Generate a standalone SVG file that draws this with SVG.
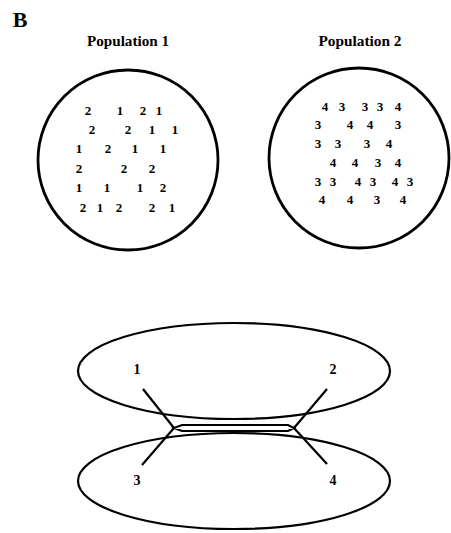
<svg xmlns="http://www.w3.org/2000/svg" width="451" height="533" viewBox="0 0 451 533">
<style>
text{font-family:"Liberation Serif","Times New Roman",serif;font-weight:bold;fill:#000;text-anchor:middle}
.d{font-size:13px}
.t{font-size:14px}
.lb{font-size:14px}
.shape{fill:none;stroke:#000;stroke-width:2.8}
.edge{fill:none;stroke:#000;stroke-width:2.2;stroke-linejoin:miter}
</style>
<rect width="451" height="533" fill="#fff"/>
<text x="20" y="27" style="font-size:22px">B</text>
<g id="pop1">
<text class="t" x="128" y="46" textLength="82" lengthAdjust="spacingAndGlyphs">Population 1</text>
<circle class="shape" cx="128" cy="160" r="90"/>
<text class="d" x="88" y="115">2</text><text class="d" x="120" y="115">1</text><text class="d" x="143" y="115">2</text><text class="d" x="159" y="115">1</text>
<text class="d" x="92" y="134">2</text><text class="d" x="128" y="134">2</text><text class="d" x="152" y="134">1</text><text class="d" x="175" y="134">1</text>
<text class="d" x="79" y="153">1</text><text class="d" x="108" y="153">2</text><text class="d" x="135" y="153">1</text><text class="d" x="163" y="153">1</text>
<text class="d" x="79" y="173">2</text><text class="d" x="124" y="173">2</text><text class="d" x="152" y="173">2</text>
<text class="d" x="79" y="192">1</text><text class="d" x="107" y="192">1</text><text class="d" x="140" y="192">1</text><text class="d" x="163" y="192">2</text>
<text class="d" x="83" y="212">2</text><text class="d" x="100" y="212">1</text><text class="d" x="119" y="212">2</text><text class="d" x="152" y="212">2</text><text class="d" x="172" y="212">1</text>
</g>
<g id="pop2">
<text class="t" x="360" y="46" textLength="83" lengthAdjust="spacingAndGlyphs">Population 2</text>
<circle class="shape" cx="359" cy="158" r="90"/>
<text class="d" x="325" y="111">4</text><text class="d" x="342" y="111">3</text><text class="d" x="365" y="111">3</text><text class="d" x="380" y="111">3</text><text class="d" x="398" y="111">4</text>
<text class="d" x="318" y="129">3</text><text class="d" x="350" y="129">4</text><text class="d" x="370" y="129">4</text><text class="d" x="398" y="129">3</text>
<text class="d" x="318" y="148">3</text><text class="d" x="338" y="148">3</text><text class="d" x="367" y="148">3</text><text class="d" x="389" y="148">4</text>
<text class="d" x="333" y="167">4</text><text class="d" x="355" y="167">4</text><text class="d" x="378" y="167">3</text><text class="d" x="398" y="167">4</text>
<text class="d" x="318" y="186">3</text><text class="d" x="333" y="186">3</text><text class="d" x="358" y="186">4</text><text class="d" x="373" y="186">3</text><text class="d" x="395" y="186">4</text><text class="d" x="410" y="186">3</text>
<text class="d" x="322" y="204">4</text><text class="d" x="350" y="204">4</text><text class="d" x="377" y="204">3</text><text class="d" x="403" y="204">4</text>
</g>
<g id="group-top">
<ellipse class="edge" cx="234" cy="371" rx="156" ry="48"/>
</g>
<g id="group-bottom">
<ellipse class="edge" cx="234" cy="481" rx="156" ry="48"/>
</g>
<g id="connectors">
<polygon class="edge" points="174,428 182,425 288,425 294,428 288,431 182,431"/>
<line class="edge" x1="143" y1="389" x2="174" y2="428"/>
<line class="edge" x1="142" y1="465" x2="174" y2="428"/>
<line class="edge" x1="327" y1="389" x2="294" y2="428"/>
<line class="edge" x1="327" y1="464" x2="294" y2="428"/>
</g>
<g id="leaf1"><text class="lb" x="137" y="374">1</text></g>
<g id="leaf2"><text class="lb" x="333" y="374">2</text></g>
<g id="leaf3"><text class="lb" x="137" y="485">3</text></g>
<g id="leaf4"><text class="lb" x="333" y="485">4</text></g>
</svg>
